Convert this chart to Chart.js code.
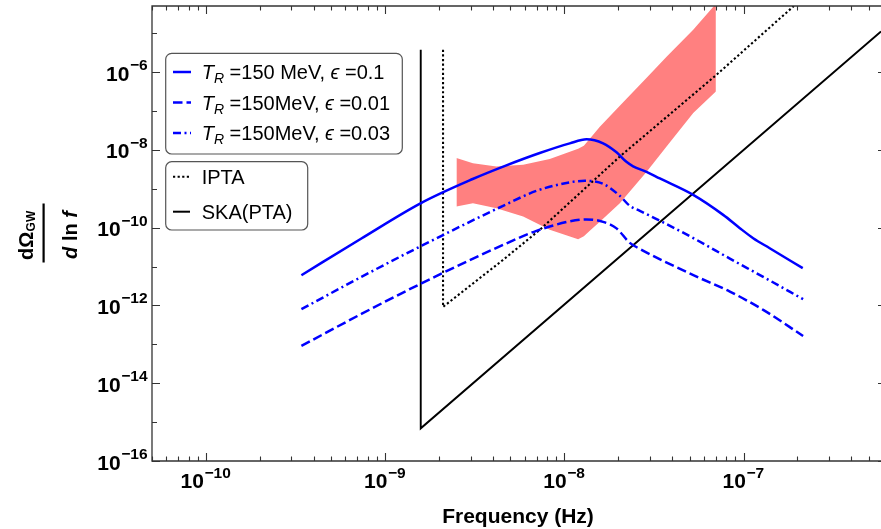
<!DOCTYPE html>
<html>
<head>
<meta charset="utf-8">
<script src="https://cdn.jsdelivr.net/npm/chart.js@4.4.1/dist/chart.umd.min.js"></script>
<style>
html,body{margin:0;padding:0;background:#fff;}
#wrap{width:881px;height:529px;position:relative;overflow:hidden;}
canvas{display:block;}
</style>
</head>
<body>
<div id="wrap"><canvas id="c" width="881" height="529"></canvas></div>
<script>
// ---------------- data ----------------
// T_R = 150 MeV, eps = 0.1 (solid blue)
const freqSolid  = [3.41e-10, 7.37e-10, 1.594e-9, 3.08e-9, 4.71e-9, 7.29e-9, 1.072e-8, 1.33e-8, 1.646e-8, 1.955e-8, 2.22e-8, 2.42e-8, 2.875e-8, 3.41e-8, 5.24e-8, 7.70e-8, 9.54e-8, 1.132e-7, 1.40e-7, 2.14e-7];
const omegaSolid = [5.98e-12, 5.27e-11, 4.35e-10, 1.78e-9, 3.94e-9, 8.30e-9, 1.47e-8, 1.87e-8, 1.47e-8, 8.65e-9, 4.92e-9, 3.78e-9, 2.72e-9, 1.84e-9, 6.96e-10, 2.13e-10, 9.70e-11, 5.36e-11, 2.96e-11, 9.08e-12];
// T_R = 150 MeV, eps = 0.01 (dashed blue)
const freqDashed  = [3.41e-10, 7.37e-10, 1.594e-9, 4.55e-9, 6.99e-9, 1.072e-8, 1.33e-8, 1.646e-8, 1.955e-8, 2.32e-8, 2.64e-8, 3.56e-8, 5.47e-8, 8.39e-8, 1.288e-7, 2.15e-7];
const omegaDashed = [9.10e-14, 6.05e-13, 3.69e-12, 3.60e-11, 8.26e-11, 1.45e-10, 1.63e-10, 1.41e-10, 9.57e-11, 4.05e-11, 2.84e-11, 1.40e-11, 5.51e-12, 2.27e-12, 7.67e-13, 1.64e-13];
// T_R = 150 MeV, eps = 0.03 (dash-dot blue)
const freqDashDot  = [3.41e-10, 7.37e-10, 1.594e-9, 4.55e-9, 6.99e-9, 1.072e-8, 1.30e-8, 1.646e-8, 2.04e-8, 2.32e-8, 2.64e-8, 3.56e-8, 5.47e-8, 8.39e-8, 1.288e-7, 2.15e-7];
const omegaDashDot = [8.0e-13, 5.42e-12, 3.40e-11, 3.63e-10, 8.83e-10, 1.46e-9, 1.60e-9, 1.34e-9, 6.58e-10, 3.63e-10, 2.70e-10, 1.37e-10, 4.85e-11, 1.60e-11, 5.42e-12, 1.445e-12];
// IPTA sensitivity (dotted black)
const freqIPTA  = [2.104e-9, 2.104e-9, 4.55e-9, 7.29e-9, 2.04e-8, 7.07e-8, 1.91e-7];
const omegaIPTA = [3.75e-6, 9.16e-13, 1.48e-11, 8.77e-11, 6.74e-9, 8.53e-7, 5e-5];
// SKA (PTA) sensitivity (solid black)
const freqSKA  = [1.58e-9, 1.58e-9, 5.85e-7];
const omegaSKA = [3.75e-6, 6.93e-16, 1.11e-5];
// signal band (red)
const bandFreq  = [2.50e-9, 3.09e-9, 4.18e-9, 5.89e-9, 8.29e-9, 1.194e-8, 1.285e-8, 1.387e-8, 1.578e-8, 2.04e-8, 2.88e-8, 3.72e-8, 5.24e-8, 7.01e-8];
const bandUpper = [6.14e-9, 4.56e-9, 3.72e-9, 4.17e-9, 5.81e-9, 1.064e-8, 1.27e-8, 1.92e-8, 3.92e-8, 1.36e-7, 7.13e-7, 2.48e-6, 1.22e-5, 5.7e-5];
const bandLower = [3.48e-10, 4.27e-10, 3.17e-10, 1.93e-10, 8.77e-11, 5.06e-11, 5.97e-11, 8.26e-11, 1.41e-10, 4.27e-10, 2.72e-9, 1.22e-8, 8.81e-8, 3.17e-7];
// axes
const xRange = [5e-11, 5.85e-7];
const yRange = [1e-16, 5e-5];
const xMajorTicks = [1e-10, 1e-9, 1e-8, 1e-7];
const xTickExponents = ['\u221210', '\u22129', '\u22128', '\u22127'];
const yMajorTicks = [1e-16, 1e-14, 1e-12, 1e-10, 1e-8, 1e-6];
const yTickExponents = ['\u221216', '\u221214', '\u221212', '\u221210', '\u22128', '\u22126'];
const yMinorTicks = [1e-15, 1e-13, 1e-11, 1e-9, 1e-7, 1e-5];
const legendLabels1 = ['150 MeV, ', '150MeV, ', '150MeV, '];
const legendEps = ['0.1', '0.01', '0.03'];
const legendLabels2 = ['IPTA', 'SKA(PTA)'];
const xTitle = 'Frequency (Hz)';

// ---------------- helpers ----------------
const pts = (xs, ys) => xs.map((x, i) => ({x: x, y: ys[i]}));
const BLUE = '#0000ff';
const FONT = '"Liberation Sans", Arial, Helvetica, sans-serif';
const DASH = [9.5, 4];
const DASHDOT = [8, 3.5, 2, 3.5];
const DOT = [2.2, 2.4];

function richText(ctx, x, y, segs) {
  for (const s of segs) {
    ctx.font = s.font;
    ctx.fillText(s.t, x, y + (s.dy || 0));
    x += ctx.measureText(s.t).width;
  }
  return x;
}
function roundBox(ctx, x, y, w, h, r) {
  ctx.beginPath();
  ctx.moveTo(x + r, y);
  ctx.lineTo(x + w - r, y);
  ctx.arcTo(x + w, y, x + w, y + r, r);
  ctx.lineTo(x + w, y + h - r);
  ctx.arcTo(x + w, y + h, x + w - r, y + h, r);
  ctx.lineTo(x + r, y + h);
  ctx.arcTo(x, y + h, x, y + h - r, r);
  ctx.lineTo(x, y + r);
  ctx.arcTo(x, y, x + r, y, r);
  ctx.closePath();
}

const decor = {
  id: 'decor',
  afterDatasetsDraw(chart) {
    const ctx = chart.ctx, xs = chart.scales.x, ys = chart.scales.y, ca = chart.chartArea;
    ctx.save();
    // frame
    ctx.strokeStyle = '#333';
    ctx.lineWidth = 1.3;
    ctx.setLineDash([]);
    ctx.beginPath();
    ctx.moveTo(ca.right + 2, ca.top); ctx.lineTo(ca.left, ca.top);
    ctx.lineTo(ca.left, ca.bottom); ctx.lineTo(ca.right + 2, ca.bottom);
    ctx.stroke();
    // ticks
    ctx.lineWidth = 1.1;
    ctx.beginPath();
    for (const v of xMajorTicks) {
      const p = Math.round(xs.getPixelForValue(v)) + 0.5;
      ctx.moveTo(p, ca.bottom); ctx.lineTo(p, ca.bottom - 8);
      ctx.moveTo(p, ca.top); ctx.lineTo(p, ca.top + 8);
    }
    for (let e = -11; e <= -7; e++) {
      for (let m = 2; m <= 9; m++) {
        const v = m * Math.pow(10, e);
        if (v <= xRange[0] * 0.999 || v >= xRange[1]) continue;
        const p = Math.round(xs.getPixelForValue(v)) + 0.5;
        ctx.moveTo(p, ca.bottom); ctx.lineTo(p, ca.bottom - 4.5);
        ctx.moveTo(p, ca.top); ctx.lineTo(p, ca.top + 4.5);
      }
    }
    for (const v of yMajorTicks) {
      const p = Math.round(ys.getPixelForValue(v)) + 0.5;
      ctx.moveTo(ca.left, p); ctx.lineTo(ca.left + 8, p);
      ctx.moveTo(ca.right, p); ctx.lineTo(ca.right - 3, p);
    }
    for (const v of yMinorTicks) {
      const p = Math.round(ys.getPixelForValue(v)) + 0.5;
      ctx.moveTo(ca.left, p); ctx.lineTo(ca.left + 5, p);
    }
    ctx.stroke();

    // tick labels
    ctx.fillStyle = '#000';
    ctx.textAlign = 'left';
    ctx.textBaseline = 'alphabetic';
    const baseFont = 'bold 21px ' + FONT, expFont = 'bold 15.5px ' + FONT;
    xMajorTicks.forEach((v, i) => {
      const p = xs.getPixelForValue(v);
      ctx.font = baseFont; const w1 = ctx.measureText('10').width;
      ctx.font = expFont; const w2 = ctx.measureText(xTickExponents[i]).width;
      const x0 = p - (w1 + w2 + 1) / 2;
      richText(ctx, x0, ca.bottom + 27, [{t: '10', font: baseFont}, {t: ' ', font: 'bold 2px ' + FONT}, {t: xTickExponents[i], font: expFont, dy: -10}]);
    });
    yMajorTicks.forEach((v, i) => {
      const p = ys.getPixelForValue(v);
      ctx.font = baseFont; const w1 = ctx.measureText('10').width;
      ctx.font = expFont; const w2 = ctx.measureText(yTickExponents[i]).width;
      const x0 = 148 - (w1 + w2 + 1);
      richText(ctx, x0, p + 8.5, [{t: '10', font: baseFont}, {t: ' ', font: 'bold 2px ' + FONT}, {t: yTickExponents[i], font: expFont, dy: -10.5}]);
    });

    // x axis title
    ctx.font = 'bold 21px ' + FONT;
    ctx.textAlign = 'center';
    ctx.fillText(xTitle, 518, 523);

    // y axis title (fraction), rotated
    ctx.save();
    ctx.translate(43.5, 233);
    ctx.rotate(-Math.PI / 2);
    ctx.textAlign = 'left';
    const fNum = 'bold 20px ' + FONT, fSub = 'bold 12px ' + FONT;
    ctx.font = fNum; const wd = ctx.measureText('d\u03A9').width;
    ctx.font = fSub; const wg = ctx.measureText('GW').width;
    let nx = -2 - (wd + wg + 1) / 2;
    richText(ctx, nx, -10.5, [{t: 'd\u03A9', font: fNum}, {t: ' ', font: 'bold 1px ' + FONT}, {t: 'GW', font: fSub, dy: 2}]);
    ctx.fillRect(-29.5, -1, 59, 2.2);
    const fIt = 'italic bold 20px ' + FONT, fB = 'bold 20px ' + FONT;
    const dSegs = [{t: 'd', font: fIt}, {t: ' ln ', font: fB}, {t: 'f', font: fIt}];
    let wden = 0; for (const s of dSegs) { ctx.font = s.font; wden += ctx.measureText(s.t).width; }
    richText(ctx, -2 - wden / 2, 33.5, dSegs);
    ctx.restore();

    // legend boxes
    ctx.lineWidth = 1.2;
    ctx.strokeStyle = '#555';
    ctx.fillStyle = '#fff';
    roundBox(ctx, 165.7, 53.3, 236.6, 100.7, 6); ctx.fill(); ctx.stroke();
    roundBox(ctx, 165.7, 161.7, 142, 68.3, 6); ctx.fill(); ctx.stroke();
    const rows1 = [72, 102.5, 133];
    const dashes1 = [[], DASH, DASHDOT];
    const reg = '20px ' + FONT, ital = 'italic 20px ' + FONT, subIt = 'italic 14px ' + FONT;
    rows1.forEach((y, i) => {
      ctx.strokeStyle = BLUE; ctx.lineWidth = 2.5; ctx.setLineDash(dashes1[i]);
      ctx.beginPath(); ctx.moveTo(173, y); ctx.lineTo(191, y); ctx.stroke();
      ctx.setLineDash([]);
      ctx.fillStyle = '#000'; ctx.textAlign = 'left';
      richText(ctx, 201.7, y + 7, [
        {t: 'T', font: ital}, {t: 'R', font: subIt, dy: 4}, {t: ' =' + legendLabels1[i], font: reg},
        {t: '\u03F5', font: ital}, {t: ' =' + legendEps[i], font: reg}
      ]);
    });
    const rows2 = [176.7, 211.7];
    const dashes2 = [DOT, []];
    rows2.forEach((y, i) => {
      ctx.strokeStyle = '#000'; ctx.lineWidth = 2; ctx.setLineDash(dashes2[i]);
      ctx.beginPath(); ctx.moveTo(173, y); ctx.lineTo(190, y); ctx.stroke();
      ctx.setLineDash([]);
      ctx.fillStyle = '#000';
      ctx.font = reg;
      ctx.fillText(legendLabels2[i], 201.7, y + 7);
    });
    ctx.restore();
  }
};

const common = {pointRadius: 0, pointHoverRadius: 0, fill: false};
new Chart(document.getElementById('c').getContext('2d'), {
  type: 'line',
  data: {
    datasets: [
      Object.assign({label: 'eps=0.1', data: pts(freqSolid, omegaSolid), borderColor: BLUE, borderWidth: 2.5, cubicInterpolationMode: 'monotone'}, common),
      Object.assign({label: 'eps=0.03', data: pts(freqDashDot, omegaDashDot), borderColor: BLUE, borderWidth: 2.5, borderDash: DASHDOT, cubicInterpolationMode: 'monotone'}, common),
      Object.assign({label: 'eps=0.01', data: pts(freqDashed, omegaDashed), borderColor: BLUE, borderWidth: 2.5, borderDash: DASH, cubicInterpolationMode: 'monotone'}, common),
      Object.assign({label: 'IPTA', data: pts(freqIPTA, omegaIPTA), borderColor: '#000', borderWidth: 2.1, borderDash: DOT, tension: 0}, common),
      Object.assign({label: 'SKA(PTA)', data: pts(freqSKA, omegaSKA), borderColor: '#000', borderWidth: 1.9, tension: 0}, common),
      {label: 'band upper', data: pts(bandFreq, bandUpper), borderWidth: 0, borderColor: 'rgba(0,0,0,0)', backgroundColor: '#ff8080', fill: '+1', pointRadius: 0, tension: 0},
      {label: 'band lower', data: pts(bandFreq, bandLower), borderWidth: 0, borderColor: 'rgba(0,0,0,0)', backgroundColor: '#ff8080', fill: false, pointRadius: 0, tension: 0}
    ]
  },
  options: {
    responsive: false,
    animation: false,
    devicePixelRatio: 1,
    layout: {padding: {top: 6, right: 0, bottom: 0, left: 0}},
    plugins: {legend: {display: false}, tooltip: {enabled: false}},
    events: [],
    scales: {
      x: {
        type: 'logarithmic', position: 'bottom', min: xRange[0], max: xRange[1],
        grid: {display: false}, border: {display: false}, ticks: {display: false},
        afterFit(s) { s.height = 68; }
      },
      y: {
        type: 'logarithmic', position: 'left', min: yRange[0], max: yRange[1],
        grid: {display: false}, border: {display: false}, ticks: {display: false},
        afterFit(s) { s.width = 152; }
      }
    }
  },
  plugins: [decor]
});
</script>
</body>
</html>
